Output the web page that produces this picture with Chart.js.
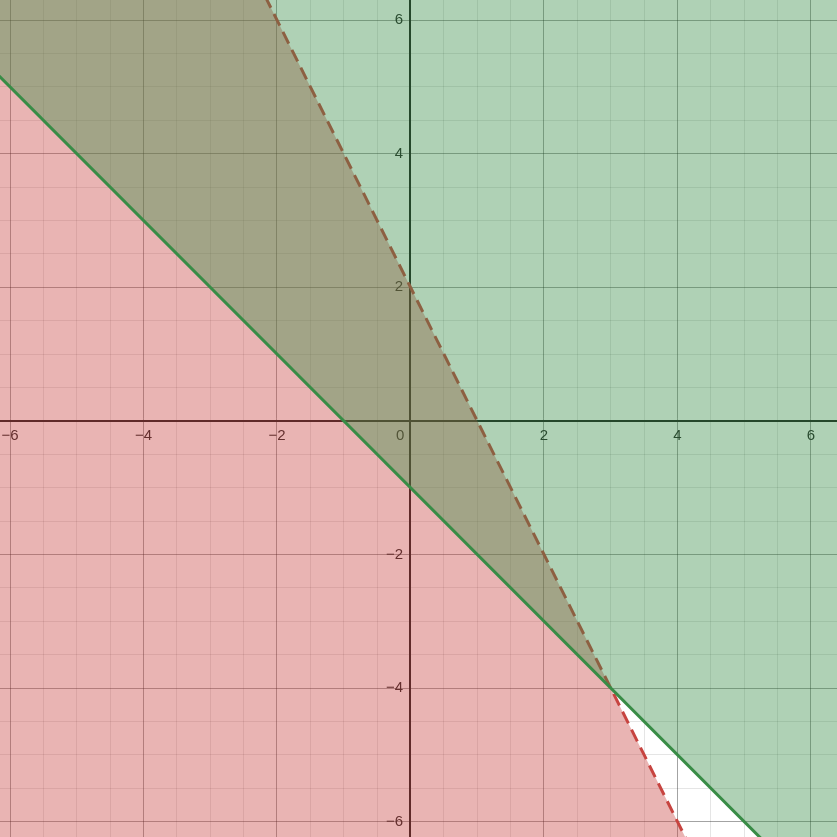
<!DOCTYPE html>
<html>
<head>
<meta charset="utf-8">
<script src="https://cdn.jsdelivr.net/npm/chart.js@4"></script>
<style>
    html, body { margin: 0; padding: 0; background: #fff; overflow: hidden; }
    #frame { position: relative; width: 837px; height: 837px; overflow: hidden; }
    #plot { position: absolute; left: -40px; top: -40px; }
</style>
</head>
<body>
<div id="frame">
    <canvas id="plot" width="917" height="917"></canvas>
</div>
<script>
// boundary lines, two points each
const lineXs = [-7, 7];
const solidYs = [6, -8];     // y = -x - 1  (green, shaded above)
const dashedYs = [16, -12];  // y = -2x + 2 (red, shaded below)

// labelled ticks
const xTickLabels = [-6, -4, -2, 0, 2, 4, 6];
const yTickLabels = [-6, -4, -2, 2, 4, 6];

const xRange = [-6.15, 6.39];
const yRange = [-6.23, 6.30];

const GREEN = '#388c46';
const RED = '#c74440';

function toPoints(xs, ys) {
    return xs.map(function (x, i) {
        return { x: x, y: ys[i] };
    });
}

function isMajor(value) {
    return Math.abs(value % 2) < 1e-9;
}

function gridColor(ctx) {
    if (!ctx.tick) {
        return 'rgba(0,0,0,0)';
    }
    return isMajor(ctx.tick.value) ? 'rgba(0,0,0,0.36)' : 'rgba(0,0,0,0.1)';
}

// desmos style labels use a real minus sign
function fmt(value) {
    return value < 0 ? '\u2212' + Math.abs(value) : String(value);
}

const tickFont = { family: "'Liberation Sans', Arial, sans-serif", size: 15 };

new Chart(document.getElementById('plot'), {
    type: 'line',
    data: {
        datasets: [{
            label: 'y >= -x - 1',
            data: toPoints(lineXs, solidYs),
            borderColor: GREEN,
            borderWidth: 3,
            backgroundColor: 'rgba(56,140,70,0.4)',
            fill: 'end',
            pointRadius: 0,
            tension: 0
        }, {
            label: 'y < -2x + 2',
            data: toPoints(lineXs, dashedYs),
            borderColor: RED,
            borderWidth: 3,
            borderDash: [13, 7],
            backgroundColor: 'rgba(199,68,64,0.4)',
            fill: 'start',
            pointRadius: 0,
            tension: 0
        }]
    },
    options: {
        responsive: false,
        animation: false,
        layout: { padding: 40 },
        plugins: {
            legend: { display: false },
            tooltip: { enabled: false }
        },
        scales: {
            x: {
                type: 'linear',
                min: xRange[0],
                max: xRange[1],
                position: { y: 0 },
                grid: { color: gridColor, lineWidth: 1, drawTicks: false },
                border: { display: true, color: '#1a1a1a', width: 2 },
                ticks: {
                    stepSize: 0.5,
                    includeBounds: false,
                    autoSkip: false,
                    maxRotation: 0,
                    padding: 6,
                    color: '#222',
                    font: tickFont,
                    callback: function (value) {
                        if (xTickLabels.indexOf(value) === -1) {
                            return '';
                        }
                        return value === 0 ? '0     ' : fmt(value);
                    }
                }
            },
            y: {
                type: 'linear',
                min: yRange[0],
                max: yRange[1],
                position: { x: 0 },
                grid: { color: gridColor, lineWidth: 1, drawTicks: false },
                border: { display: true, color: '#1a1a1a', width: 2 },
                ticks: {
                    stepSize: 0.5,
                    includeBounds: false,
                    autoSkip: false,
                    color: '#222',
                    font: tickFont,
                    callback: function (value) {
                        // labels sit left of the axis; the en space keeps a gap
                        return yTickLabels.indexOf(value) === -1 ? '' : fmt(value) + '\u2002';
                    }
                }
            }
        }
    }
});
</script>
</body>
</html>
